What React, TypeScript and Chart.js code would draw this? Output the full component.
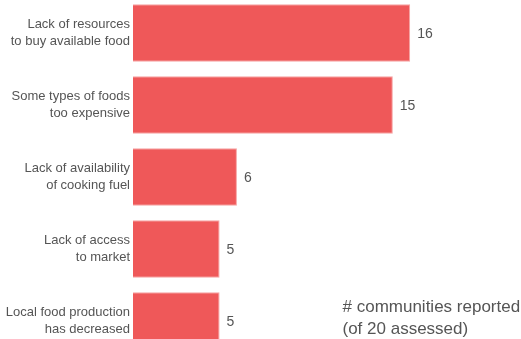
import React, { useEffect, useRef } from "react";
import { Chart, registerables } from "chart.js";

Chart.register(...registerables);

const categories: string[][] = [
  ["Lack of resources", "to buy available food"],
  ["Some types of foods", "too expensive"],
  ["Lack of availability", "of cooking fuel"],
  ["Lack of access", "to market"],
  ["Local food production", "has decreased"],
];
const values: number[] = [16, 15, 6, 5, 5];
const noteLines: string[] = ["# communities reported", "(of 20 assessed)"];

const FONT = "'Liberation Sans', Arial, sans-serif";
const TEXT = "#555555";

export default function App() {
  const ref = useRef<HTMLCanvasElement | null>(null);

  useEffect(() => {
    const prevOverflow = document.body.style.overflow;
    document.body.style.overflow = "hidden";
    const canvas = ref.current!;
    const valueLabels = {
      id: "valueLabels",
      afterDatasetsDraw(chart: any) {
        const ctx = chart.ctx;
        const meta = chart.getDatasetMeta(0);
        ctx.save();
        ctx.font = `14px ${FONT}`;
        ctx.fillStyle = TEXT;
        ctx.textAlign = "left";
        ctx.textBaseline = "middle";
        meta.data.forEach((el: any, i: number) => {
          ctx.fillText(String(values[i]), el.x + 7, el.y + 1);
        });
        ctx.restore();
      },
    };
    const note = {
      id: "note",
      afterDraw(chart: any) {
        const ctx = chart.ctx;
        ctx.save();
        ctx.font = `17px ${FONT}`;
        ctx.fillStyle = TEXT;
        ctx.textAlign = "left";
        ctx.textBaseline = "alphabetic";
        noteLines.forEach((t, i) => {
          ctx.fillText(t, 342.5, 315 + i * 21.5);
        });
        ctx.restore();
      },
    };
    const chart = new Chart(canvas, {
      type: "bar",
      data: {
        labels: categories,
        datasets: [
          {
            data: values,
            backgroundColor: "#ef5859",
            borderColor: "#f6a3a3",
            borderWidth: 1,
            barPercentage: 0.8,
            categoryPercentage: 1,
          },
        ],
      },
      options: {
        indexAxis: "y",
        animation: false,
        responsive: false,
        layout: { padding: 0 },
        plugins: { legend: { display: false }, tooltip: { enabled: false } },
        scales: {
          x: { display: false, min: 0, max: 22.4 },
          y: {
            afterFit(scale: any) {
              scale.width = 133;
              scale.paddingTop = 0;
              scale.paddingBottom = 0;
            },
            grid: { display: false, drawTicks: false },
            border: { display: false },
            ticks: {
              padding: 3,
              color: TEXT,
              font: { family: FONT, size: 13, lineHeight: 1.3 },
            },
          },
        },
      },
      plugins: [valueLabels, note],
    } as any);
    return () => {
      chart.destroy();
      document.body.style.overflow = prevOverflow;
    };
  }, []);

  return (
    <div
      style={{
        position: "fixed",
        left: 0,
        top: 0,
        width: 521,
        height: 339,
        overflow: "hidden",
        background: "#fff",
      }}
    >
      <div style={{ position: "absolute", left: 0, top: -3, width: 521, height: 360 }}>
        <canvas ref={ref} width={521} height={360} style={{ display: "block" }} />
      </div>
    </div>
  );
}
